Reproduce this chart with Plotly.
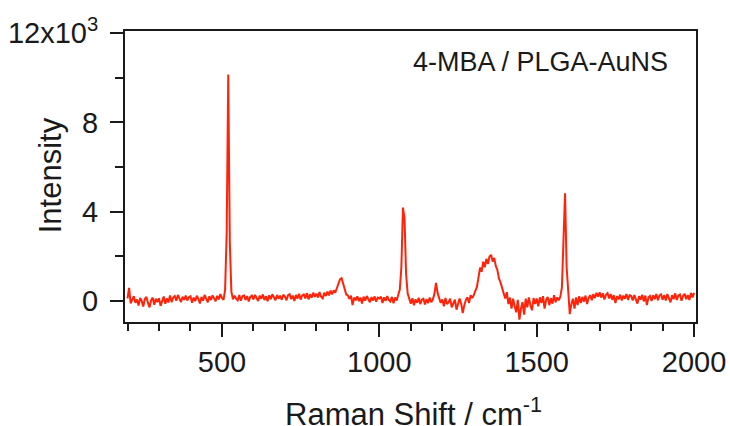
import plotly.graph_objects as go

# Raman shift axis (cm^-1), 5 cm^-1 steps from 200 to 2000
raman_shift = list(range(200, 2001, 5))

# Intensity values (counts)
intensity = [
    # 200-295
    100, 580, -120, 90, 200, -90, 60, -220, 120, -10, -260, 80, 170, -100, -300, 20, 140, -180, 90, -60,
    # 300-395
    110, -230, 40, 190, -140, 100, -80, 230, -60, 140, 210, 0, 260, 90, -60, 180, 40, 230, 10, 160,
    # 400-495
    200, -90, 140, -20, 220, 80, -120, 170, 0, 260, 110, -70, 200, 30, 240, 120, -20, 220, 60, 300,
    # 500-595
    120, 40, 500, 3000, 10150, 2600, 400, 60, 230, 90, 20, 250, 0, 200, 240, 40, 210, -30, 170, 230,
    # 600-695
    60, 260, 110, -10, 230, 90, 280, 30, 200, -20, 240, 70, 290, 110, 20, 260, 90, 230, 40, 270,
    # 700-795
    190, 20, 250, 290, 70, 230, -10, 260, 100, 310, 50, 240, 280, 100, 340, 60, 290, 130, 360, 170,
    # 800-895
    320, 140, 390, 180, 110, 360, 210, 410, 240, 450, 280, 470, 360, 560, 760, 960, 1010, 760, 450, 280,
    # 900-995
    240, 80, 230, -200, 150, 20, 200, -20, 140, -130, 180, 0, 210, 30, -70, 160, 10, 190, -40, 140,
    # 1000-1095
    100, 180, -100, 150, -10, 210, 40, -30, 170, -110, 140, 10, 220, 500, 1500, 4180, 3700, 1200, 320, 60,
    # 1100-1195
    -130, 110, -200, 60, -90, 130, -150, 50, 90, -170, 70, -110, 140, -70, 60, 300, 800, 350, 60, -100,
    # 1200-1295
    60, -250, 120, -150, -70, 90, -300, -100, 50, -400, -170, 100, -130, -550, -200, 40, 150, -100, 250, 120,
    # 1300-1395
    250, 430, 620, 1050, 1480, 1300, 1750, 1500, 1880, 1650, 1980, 2060, 1760, 1920, 1560, 1380, 1000, 820, 500, 330,
    # 1400-1495
    100, 380, -150, 140, -350, 90, -250, -520, 40, -850, -350, -60, -620, 90, -300, 150, -200, -430, 120, -150,
    # 1500-1595
    100, -250, 150, -100, 200, -350, 40, 170, -200, 110, -130, 250, -70, 150, 20, 180, 600, 2500, 4820, 1500,
    # 1600-1695
    150, -600, -160, 90, -350, 150, -200, 200, -100, 170, -40, 230, -150, 130, 250, 20, 300, 120, 350, 180,
    # 1700-1795
    380, 140, 330, 60, 270, 340, 100, 300, 40, 250, -100, 200, 60, 270, 10, 230, 90, 300, 40, 250,
    # 1800-1895
    210, 10, 250, 80, -130, 200, 50, 270, -30, 230, -200, 150, 210, -10, 250, 70, 300, 20, 230, 280,
    # 1900-1995
    50, 250, 10, 300, 100, -70, 250, 70, 330, 30, 240, 280, 0, 220, 310, 70, 250, 30, 350, 150,
    # 2000
    350,
]

y_tick_vals = [0, 4000, 8000, 12000]
y_tick_text = ["0", "4", "8", "12x10<sup>3</sup>"]
x_tick_vals = [500, 1000, 1500, 2000]
x_tick_text = ["500", "1000", "1500", "2000"]

label_text = "4-MBA / PLGA-AuNS"
x_title = "Raman Shift / cm<sup>-1</sup>"
y_title = "Intensity"

FONT = "Liberation Sans, Arial, sans-serif"
INK = "#1a1a1a"

fig = go.Figure()
fig.add_trace(go.Scatter(
    x=raman_shift, y=intensity, mode="lines",
    line=dict(color="rgb(255,35,10)", width=2),
    showlegend=False, hoverinfo="skip",
))

axis_common = dict(
    showline=True, linecolor=INK, linewidth=2, mirror=True,
    ticks="outside", tickcolor=INK, tickwidth=1.5, ticklen=13,
    showgrid=False, zeroline=False, automargin=False,
    tickfont=dict(family=FONT, size=29, color=INK),
)

fig.update_xaxes(
    range=[192, 2006], tickmode="array", tickvals=x_tick_vals, ticktext=x_tick_text,
    minor=dict(ticks="outside", ticklen=7, tickwidth=1.5, tickcolor=INK, dtick=100, tick0=0),
    ticklabelstandoff=0,
    **axis_common,
)
fig.update_yaxes(
    range=[-955, 12100], tickmode="array", tickvals=y_tick_vals, ticktext=y_tick_text,
    minor=dict(ticks="outside", ticklen=8, tickwidth=1.5, tickcolor=INK, dtick=2000, tick0=0),
    ticklabelstandoff=6,
    **axis_common,
)

fig.add_annotation(
    text=label_text, xref="paper", yref="paper", x=0.727, y=0.893,
    xanchor="center", yanchor="middle", showarrow=False,
    font=dict(family=FONT, size=27, color=INK),
)
fig.add_annotation(
    text=y_title, xref="paper", yref="paper", x=-0.131, y=0.505,
    xanchor="center", yanchor="middle", textangle=-90, showarrow=False,
    font=dict(family=FONT, size=31, color=INK),
)
fig.add_annotation(
    text=x_title, xref="paper", yref="paper", x=0.506, y=-0.309,
    xanchor="center", yanchor="middle", showarrow=False,
    font=dict(family=FONT, size=31, color=INK),
)

fig.update_layout(
    width=730, height=426,
    margin=dict(l=125, r=34, t=31, b=104),
    paper_bgcolor="white", plot_bgcolor="white",
    font=dict(family=FONT, color=INK),
)

fig.write_html(
    "out.html",
    config={"displayModeBar": False},
    post_script="document.body.style.margin='0';document.body.style.overflow='hidden';",
)
